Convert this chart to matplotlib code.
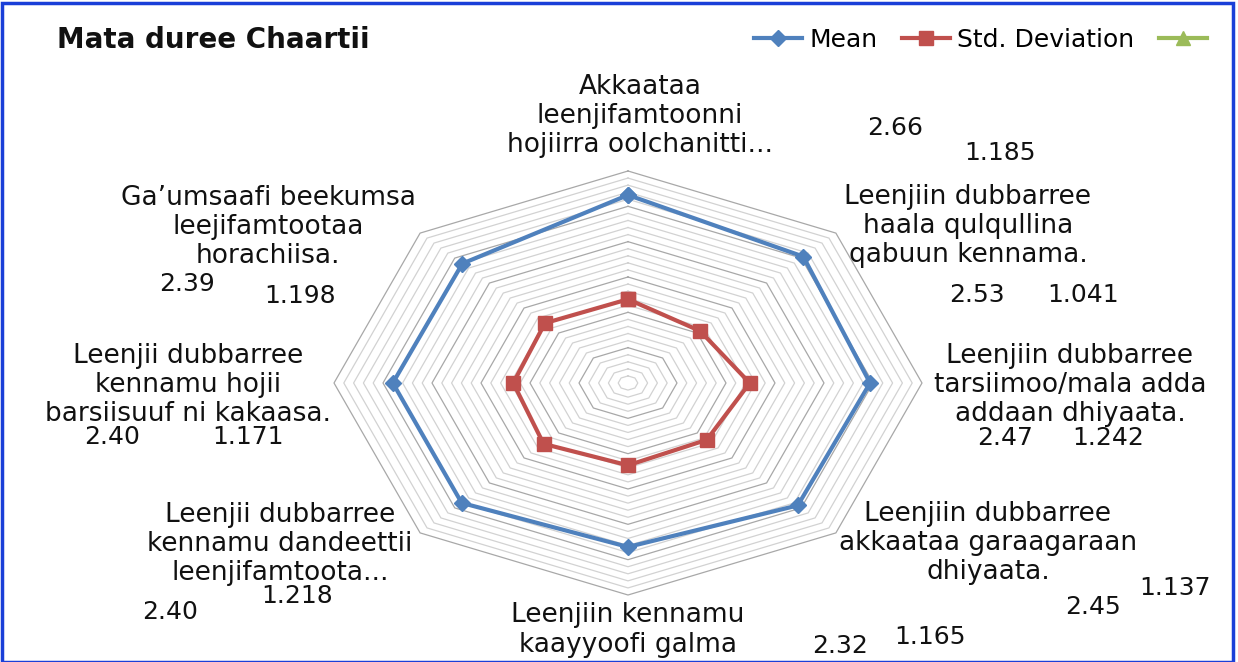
import numpy as np
import matplotlib.pyplot as plt
from matplotlib.lines import Line2D
from matplotlib.patches import Rectangle

plt.rcParams['font.family'] = ['DejaVu Sans']

# categories, clockwise from the top
categories = [
    "Akkaataa\nleenjifamtoonni\nhojiirra oolchanitti...",
    "Leenjiin dubbarree\nhaala qulqullina\nqabuun kennama.",
    "Leenjiin dubbarree\ntarsiimoo/mala adda\naddaan dhiyaata.",
    "Leenjiin dubbarree\nakkaataa garaagaraan\ndhiyaata.",
    "Leenjiin kennamu\nkaayyoofi galma",
    "Leenjii dubbarree\nkennamu dandeettii\nleenjifamtoota...",
    "Leenjii dubbarree\nkennamu hojii\nbarsiisuuf ni kakaasa.",
    "Ga\u2019umsaafi beekumsa\nleejifamtootaa\nhorachiisa.",
]
mean_vals = [2.66, 2.53, 2.47, 2.45, 2.32, 2.40, 2.40, 2.39]
std_vals = [1.185, 1.041, 1.242, 1.137, 1.165, 1.218, 1.171, 1.198]

W, H = 1238, 662
# layout (pixel positions, top-left origin) for category and value labels
cat_pos = [(640, 116), (968, 226), (1070, 385), (988, 543),
           (628, 630), (280, 544), (188, 385), (268, 227)]
mean_pos = [(895, 128), (977, 295), (1005, 438), (1093, 607),
            (840, 646), (170, 612), (112, 437), (187, 284)]
std_pos = [(1000, 153), (1083, 295), (1108, 438), (1175, 588),
           (930, 637), (297, 596), (248, 437), (300, 296)]

blue = '#4F81BD'
red = '#C0504D'
green = '#9BBB59'
txt = '#111111'

fig = plt.figure(figsize=(W / 100, H / 100), dpi=100)
# the original chart is stretched sideways: wider than tall
cx, cy, rx, ry = 628, 383, 294, 212
ax = fig.add_axes([(cx - rx) / W, (H - cy - ry) / H, 2 * rx / W, 2 * ry / H],
                  projection='polar')
ax.set_aspect('auto')
ax.set_theta_offset(np.pi / 2)
ax.set_theta_direction(-1)
ax.set_ylim(0, 3)
ax.set_axis_off()

n = len(categories)
angles = np.linspace(0, 2 * np.pi, n, endpoint=False)
ang_c = np.append(angles, angles[0])

# octagonal grid rings
for r in np.arange(0.1, 3.001, 0.1):
    major = abs(r - round(r * 2) / 2) < 1e-6
    ax.plot(ang_c, [r] * (n + 1), color='#a8a8a8' if major else '#d2d2d2',
            lw=0.9, zorder=1, clip_on=False)

ax.plot(ang_c, mean_vals + mean_vals[:1], color=blue, lw=3, marker='D',
        ms=8, zorder=3, clip_on=False)
ax.plot(ang_c, std_vals + std_vals[:1], color=red, lw=3, marker='s',
        ms=10, zorder=3, clip_on=False)

for lab, (x, y) in zip(categories, cat_pos):
    fig.text(x / W, 1 - y / H, lab, ha='center', va='center', fontsize=19,
             color=txt, linespacing=1.15)
for v, (x, y) in zip(mean_vals, mean_pos):
    fig.text(x / W, 1 - y / H, f"{v:.2f}", ha='center', va='center',
             fontsize=18, color=txt)
for v, (x, y) in zip(std_vals, std_pos):
    fig.text(x / W, 1 - y / H, f"{v:.3f}", ha='center', va='center',
             fontsize=18, color=txt)

fig.text(57 / W, 1 - 40 / H, "Mata duree Chaartii", ha='left', va='center',
         fontsize=20, fontweight='bold', color=txt)

handles = [
    Line2D([], [], color=blue, lw=3, marker='D', ms=8),
    Line2D([], [], color=red, lw=3, marker='s', ms=10),
    Line2D([], [], color=green, lw=3, marker='^', ms=10),
]
fig.legend(handles, ["Mean", "Std. Deviation", ""], loc='center left',
           bbox_to_anchor=(744 / W, 1 - 40 / H), ncol=3, frameon=False,
           fontsize=18, handlelength=1.9, handletextpad=0.3,
           columnspacing=1.0, borderaxespad=0)

# outer frame
fig.patches.append(Rectangle((0.002, 0.0), 0.994, 0.996, transform=fig.transFigure,
                             fill=False, edgecolor='#1a3fd8', lw=2.5))

fig.savefig('out.png', dpi=100)
